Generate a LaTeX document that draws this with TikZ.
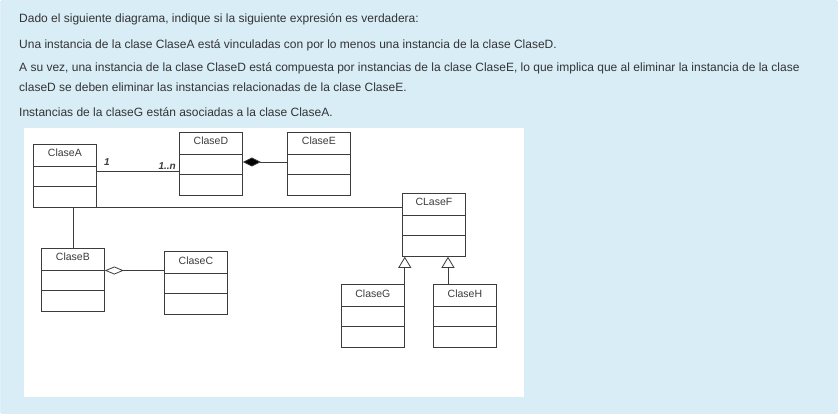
\documentclass[tikz,border=0pt]{standalone}
\usepackage{fontspec}
\setmainfont{Liberation Sans}
\usetikzlibrary{arrows.meta,calc,positioning}
\definecolor{fondo}{HTML}{D9EDF7}
\definecolor{borde}{HTML}{C6DFEB}
\definecolor{texto}{HTML}{333333}
\definecolor{trazo}{HTML}{3C3C3C}

% class box: id, x, y, name
\newcommand{\claseuml}[4]{%
  \node[caja] (#1) at (#2,#3) {};
  \draw[trazo,line width=0.8pt] ($(#1.north west)+(0,22.5)$) -- ($(#1.north east)+(0,22.5)$);
  \draw[trazo,line width=0.8pt] ($(#1.north west)+(0,42)$) -- ($(#1.north east)+(0,42)$);
  \node[nombre] (#1-t) at ($(#1.north)+(0,13)$) {#4};
}

\begin{document}
\begin{tikzpicture}[x=1pt,y=-1pt,
  caja/.style={draw=trazo,fill=white,line width=0.8pt,anchor=north west,
    minimum width=63pt,minimum height=63pt,inner sep=0pt},
  nombre/.style={anchor=base,text=trazo,font=\fontsize{10.5}{12}\selectfont,inner sep=0pt},
  parrafo/.style={anchor=base west,text=texto,font=\fontsize{12}{14}\selectfont,inner sep=0pt},
  mult/.style={text=trazo,font=\bfseries\itshape\fontsize{10}{12}\selectfont,inner sep=0pt},
  enlace/.style={draw=trazo,line width=0.8pt}]
  \useasboundingbox (0,0) rectangle (838,414);
  \draw[borde,fill=fondo,rounded corners=2pt] (0.5,0.5) rectangle (837.5,413.5);
  \fill[white] (24,128) rectangle (524,397);

  % statement
  \node[parrafo] (p1) at (19,23) {Dado el siguiente diagrama, indique si la siguiente expresión es verdadera:};
  \node[parrafo] (p2) at (19,49) {Una instancia de la clase ClaseA está vinculadas con por lo menos una instancia de la clase ClaseD.};
  \node[parrafo] (p3) at (19,72) {A su vez, una instancia de la clase ClaseD está compuesta por instancias de la clase ClaseE, lo que implica que al eliminar la instancia de la clase};
  \node[parrafo] (p4) at (19,92) {claseD se deben eliminar las instancias relacionadas de la clase ClaseE.};
  \node[parrafo] (p5) at (19,117) {Instancias de la claseG están asociadas a la clase ClaseA.};

  % classes
  \claseuml{ClaseA}{33}{144}{ClaseA}
  \claseuml{ClaseD}{179}{132}{ClaseD}
  \claseuml{ClaseE}{287}{132}{ClaseE}
  \claseuml{ClaseF}{402}{193}{CLaseF}
  \claseuml{ClaseB}{41}{248}{ClaseB}
  \claseuml{ClaseC}{164}{251}{ClaseC}
  \claseuml{ClaseG}{341}{284}{ClaseG}
  \claseuml{ClaseH}{433}{284}{ClaseH}

  % relations
  \coordinate (aD) at ($(ClaseA.north east)+(0,27)$);
  \draw[enlace] (aD) -- (aD -| ClaseD.west);
  \node[mult,anchor=base west] (m1) at (104,166) {1};
  \node[mult,anchor=base east] (m2) at (176,170) {1..n};

  \coordinate (dE) at ($(ClaseD.north east)+(0,30)$);
  \draw[enlace,-{Diamond[fill=black,length=18pt,width=9pt]}] (dE -| ClaseE.west) -- (dE);

  \draw[enlace] (ClaseA.south east) -- (ClaseA.south east -| ClaseF.west);
  \draw[enlace] (ClaseB.north) -- (ClaseB.north |- ClaseA.south);

  \coordinate (bC) at ($(ClaseB.north east)+(0,22.5)$);
  \draw[enlace,-{Diamond[open,fill=white,length=19pt,width=8pt]}] (bC -| ClaseC.west) -- (bC);

  \draw[enlace,-{Triangle[open,fill=white,length=11pt,width=13pt]}] (ClaseG.north east) -- (ClaseG.north east |- ClaseF.south);
  \coordinate (hF) at ($(ClaseH.north west)+(15,0)$);
  \draw[enlace,-{Triangle[open,fill=white,length=11pt,width=13pt]}] (hF) -- (hF |- ClaseF.south);
\end{tikzpicture}
\end{document}
